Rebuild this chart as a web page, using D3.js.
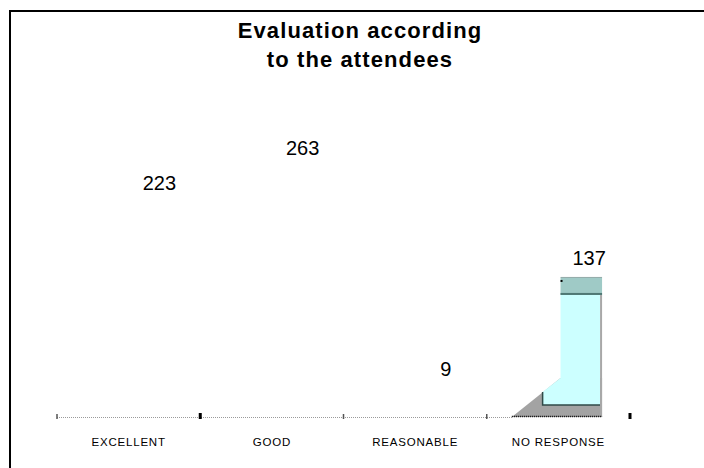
<!DOCTYPE html>
<html>
<head>
<meta charset="utf-8">
<script src="https://cdn.jsdelivr.net/npm/d3@7"></script>
<style>
  html, body { margin: 0; padding: 0; background: #fff; }
  svg { display: block; font-family: "Liberation Sans", Arial, sans-serif; }
</style>
</head>
<body>
<svg id="chart" width="704" height="468"></svg>
<script>
// Survey answers
const categories = ["EXCELLENT", "GOOD", "REASONABLE", "NO RESPONSE"];
const responses = [223, 263, 9, 137];
const filledCategories = ["NO RESPONSE"];
const titleLines = ["Evaluation according", "to the attendees"];

const svg = d3.select("#chart");
const W = 704, H = 468;
const baseY = 417;

const x = d3.scaleBand().domain(categories).range([57, 630]).padding(0);
const y = d3.scaleLinear().domain([0, 400]).range([baseY, 11]);
// value labels float above their columns
const labelY = d3.scaleLinear().domain([0, 400]).range([baseY - 33, baseY - 33 - 348]);
const bw = x.bandwidth();

const rows = categories.map((c, i) => ({ cat: c, value: responses[i] }));

// frame (top and left edges)
svg.append("line").attr("x1", 9).attr("x2", W).attr("y1", 11).attr("y2", 11)
  .attr("stroke", "#000").attr("stroke-width", 2);
svg.append("line").attr("x1", 10).attr("x2", 10).attr("y1", 10).attr("y2", H)
  .attr("stroke", "#000").attr("stroke-width", 2);

// title
const title = svg.append("text").attr("text-anchor", "middle")
  .attr("font-size", 22).attr("font-weight", "bold").attr("letter-spacing", 1.1)
  .attr("fill", "#000");
titleLines.forEach((t, i) => {
  title.append("tspan").attr("x", 360).attr("y", 38 + i * 29).text(t);
});

// axis baseline (dotted)
const shadowStart = d => x(d.cat) + 0.175 * bw;
const last = rows[rows.length - 1];
svg.append("line")
  .attr("x1", x(categories[0])).attr("x2", shadowStart(last))
  .attr("y1", baseY + 0.5).attr("y2", baseY + 0.5)
  .attr("stroke", "#9a9a9a").attr("stroke-width", 1).attr("stroke-dasharray", "1,1");

// tick marks at band boundaries
const tickXs = categories.map(c => x(c)).concat([x.range()[1]]);
const heavy = [false, true, false, false, true];
svg.selectAll(".tick").data(tickXs).join("rect")
  .attr("class", "tick")
  .attr("x", (d, i) => heavy[i] ? d - 1.5 : d - 0.75)
  .attr("width", (d, i) => heavy[i] ? 3 : 1.5)
  .attr("y", (d, i) => heavy[i] ? baseY - 4 : baseY - 3)
  .attr("height", (d, i) => heavy[i] ? 6 : 5)
  .attr("fill", (d, i) => heavy[i] ? "#000" : "#555");

// category labels
svg.selectAll(".cat").data(categories).join("text")
  .attr("class", "cat")
  .attr("x", c => x(c) + bw / 2)
  .attr("y", 446)
  .attr("text-anchor", "middle")
  .attr("font-size", 11.5)
  .attr("letter-spacing", 0.8)
  .attr("fill", "#000")
  .text(c => c);

// shaded column with extruded shadow
rows.filter(d => filledCategories.includes(d.cat)).forEach(d => {
  const x0 = x(d.cat);
  const sL = shadowStart(d);
  const fL = x0 + 0.515 * bw;
  const fR = x0 + 0.805 * bw;
  const iL = x0 + 0.39 * bw;
  const top = y(d.value);
  const capB = top + 17;
  const g = svg.append("g");

  g.append("polygon")
    .attr("points", [[sL, baseY], [fL, baseY - 39], [fR, baseY - 39], [fR, baseY]].join(" "))
    .attr("fill", "#a3a3a3");

  g.append("polygon")
    .attr("points", [[fL, capB], [fR - 2, capB], [fR - 2, baseY - 12], [iL, baseY - 12],
                     [iL, baseY - 25], [fL, baseY - 39]].join(" "))
    .attr("fill", "#ccffff");

  g.append("path")
    .attr("d", `M${iL},${baseY - 25}V${baseY - 12}H${fR - 2}`)
    .attr("fill", "none").attr("stroke", "#2f4a48").attr("stroke-width", 1.5);

  g.append("rect").attr("x", fR - 2).attr("y", capB).attr("width", 2).attr("height", baseY - capB)
    .attr("fill", "#a8a8a8");

  g.append("rect").attr("x", fL).attr("y", top).attr("width", fR - fL).attr("height", capB - top)
    .attr("fill", "#9fcac6");
  g.append("line").attr("x1", fL).attr("x2", fR).attr("y1", top - 0.5).attr("y2", top - 0.5)
    .attr("stroke", "#8fa8a6").attr("stroke-width", 1);
  g.append("rect").attr("x", fL).attr("y", capB - 2).attr("width", fR - fL).attr("height", 2)
    .attr("fill", "#4f7874");
  g.append("rect").attr("x", fL).attr("y", top + 2).attr("width", 2).attr("height", 2)
    .attr("fill", "#000");

  g.append("line").attr("x1", sL).attr("x2", fR).attr("y1", baseY - 0.5).attr("y2", baseY - 0.5)
    .attr("stroke", "#000").attr("stroke-width", 1.5).attr("stroke-dasharray", "1,1");
});

// value labels
svg.selectAll(".val").data(rows).join("text")
  .attr("class", "val")
  .attr("x", d => x(d.cat) + bw / 2 + 0.215 * bw)
  .attr("y", d => labelY(d.value))
  .attr("text-anchor", "middle")
  .attr("font-size", 20)
  .attr("fill", "#000")
  .text(d => d.value);
</script>
</body>
</html>
